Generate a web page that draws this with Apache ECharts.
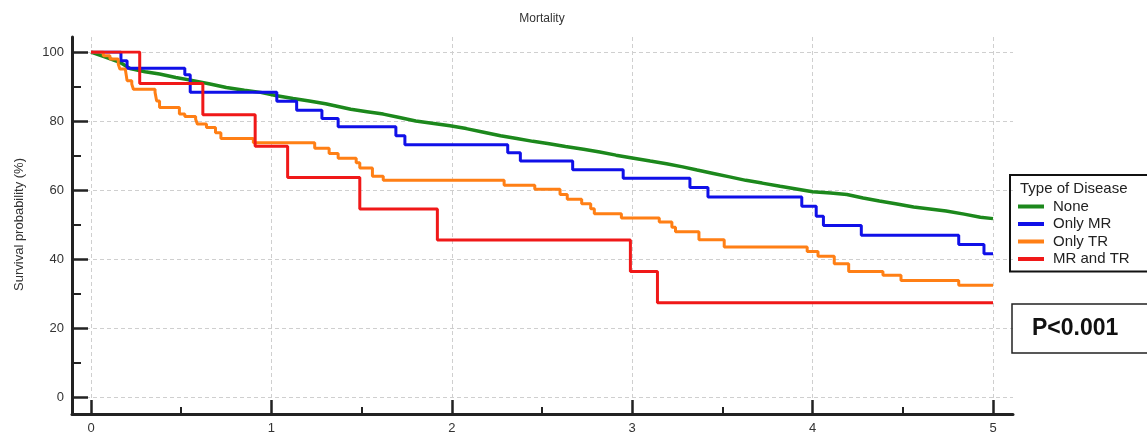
<!DOCTYPE html>
<html>
<head>
<meta charset="utf-8">
<script src="https://cdn.jsdelivr.net/npm/echarts@6/dist/echarts.min.js"></script>
<style>
html,body{margin:0;padding:0;background:#fff;}
#chart{width:1147px;height:436px;}
</style>
</head>
<body>
<div id="chart"></div>
<script>
// ---- data (time in years, survival %) ----
const seriesNames = ['None', 'Only MR', 'Only TR', 'MR and TR'];
const noneData = [
  [0,100],[0.08,98.5],[0.16,97],[0.216,95.2],[0.3,94.3],[0.38,93.6],[0.47,92.6],[0.567,91.7],[0.66,90.7],
  [0.75,89.7],[0.85,88.9],[0.94,88.3],[1.03,87.3],[1.12,86.5],[1.21,85.8],[1.3,85],[1.37,84.2],[1.44,83.4],
  [1.53,82.7],[1.62,82],[1.71,81],[1.8,80],[1.9,79.3],[1.99,78.6],[2.08,77.8],[2.17,76.8],[2.27,75.7],
  [2.36,74.9],[2.45,74.1],[2.54,73.4],[2.63,72.6],[2.73,71.8],[2.82,71],[2.91,70.1],[3.0,69.3],[3.1,68.4],
  [3.19,67.6],[3.28,66.7],[3.36,65.8],[3.45,64.8],[3.54,63.8],[3.63,62.8],[3.72,62],[3.82,61.1],[3.91,60.3],
  [4.0,59.5],[4.1,59.1],[4.19,58.7],[4.28,57.7],[4.37,56.8],[4.46,56],[4.56,55.1],[4.65,54.5],[4.74,53.9],
  [4.84,53],[4.93,52.1],[5.0,51.7]
];
const onlyMRData = [
  [0,100],[0.166,97.5],[0.2,95.3],[0.52,93.4],[0.55,88.3],[1.03,85.7],[1.14,83.1],[1.28,80.7],[1.37,78.3],
  [1.69,75.7],[1.74,73.1],[2.31,70.8],[2.38,68.4],[2.67,65.9],[2.95,63.4],[3.32,60.7],[3.42,58.0],
  [3.94,55.3],[4.02,52.4],[4.06,49.7],[4.27,46.9],[4.81,44.2],[4.95,41.5],[5.0,41.5]
];
const onlyTRData = [
  [0,100],[0.068,98.9],[0.105,98],[0.151,96.5],[0.16,95.1],[0.19,94.6],[0.2,91.7],[0.226,90.7],[0.235,89.2],
  [0.355,88.3],[0.364,85.8],[0.38,83.9],[0.49,82],[0.52,81.3],[0.58,80.5],[0.59,79.1],[0.64,78.1],[0.69,76.6],
  [0.72,74.9],[0.9,73.7],[1.24,72.1],[1.32,70.6],[1.37,69.2],[1.47,67.9],[1.49,66.4],[1.56,64],[1.62,62.8],
  [2.29,61.4],[2.46,60.2],[2.6,58.7],[2.64,57.3],[2.72,56],[2.77,54.6],[2.79,53.1],[2.94,51.9],[3.15,50.7],
  [3.22,49.2],[3.24,47.9],[3.37,45.6],[3.51,43.5],[3.97,42.2],[4.03,40.8],[4.12,38.6],[4.2,36.4],[4.39,35.3],
  [4.49,33.8],[4.81,32.4],[5,32.4]
];
const mrTrData = [
  [0,100],[0.27,90.9],[0.62,81.8],[0.91,72.7],[1.09,63.6],[1.49,54.5],[1.92,45.5],[2.99,36.4],[3.14,27.3],[5,27.3]
];
const xTicks = [0, 1, 2, 3, 4, 5];
const yTicks = [0, 20, 40, 60, 80, 100];
const colors = ['#1c881c', '#1010e8', '#ff7f15', '#f01818'];

const font = 'Liberation Sans, Arial, sans-serif';
const chart = echarts.init(document.getElementById('chart'));
const allData = [noneData, onlyMRData, onlyTRData, mrTrData];

const option = {
  animation: false,
  backgroundColor: '#fff',
  title: [
    { text: 'Mortality', left: 542, top: 13, textAlign: 'center', padding: 0,
      textStyle: { fontSize: 12, fontWeight: 'normal', color: '#333', fontFamily: font } },
    { text: 'Type of Disease', left: 1020, top: 181, padding: 0,
      textStyle: { fontSize: 15, fontWeight: 'normal', color: '#222', fontFamily: font } },
    { text: 'P<0.001', left: 1012, top: 304, padding: [13, 60, 13, 20],
      borderColor: '#222', borderWidth: 1.5,
      textStyle: { fontSize: 23, fontWeight: 'bold', color: '#111', lineHeight: 23, fontFamily: font } }
  ],
  legend: {
    data: seriesNames, orient: 'vertical', left: 1010, top: 175,
    padding: [24, 60, 5, 8], borderColor: '#111', borderWidth: 2,
    itemWidth: 26, itemHeight: 4, icon: 'rect', itemGap: 2.5,
    textStyle: { fontSize: 15, lineHeight: 15, color: '#222', fontFamily: font, padding: [0, 0, 0, 4] }
  },
  grid: [
    { left: 72, right: 134, top: 52, bottom: 39 },
    { left: 91, right: 154, top: 37, bottom: 22 },
    { left: 91, right: 154, top: 52, bottom: 39 },
    { left: 72, right: 134, top: 37, bottom: 22 }
  ],
  xAxis: [
    { gridIndex: 0, type: 'value', min: 0, max: 1, show: false },
    { gridIndex: 1, type: 'value', min: xTicks[0], max: xTicks[xTicks.length - 1], interval: 1,
      axisLine: { show: false },
      axisTick: { show: true, inside: true, length: 14, lineStyle: { color: '#222', width: 2.5 } },
      minorTick: { show: true, splitNumber: 2, length: 7, lineStyle: { color: '#222', width: 2 } },
      axisLabel: { show: true, margin: 8, fontSize: 13, color: '#333', fontFamily: font },
      splitLine: { show: true, lineStyle: { type: [4, 3], color: '#cfcfcf', width: 1 } } },
    { gridIndex: 2, type: 'value', min: 0, max: 5, show: false },
    { gridIndex: 3, type: 'value', min: 0, max: 1,
      axisLine: { show: true, onZero: false, lineStyle: { color: '#222', width: 3 } },
      axisTick: { show: false }, axisLabel: { show: false }, splitLine: { show: false } }
  ],
  yAxis: [
    { gridIndex: 0, type: 'value', min: yTicks[0], max: yTicks[yTicks.length - 1], interval: 20,
      name: 'Survival probability (%)', nameLocation: 'middle', nameGap: 46,
      nameTextStyle: { fontSize: 13, color: '#333', fontFamily: font },
      axisLine: { show: false },
      axisTick: { show: true, inside: true, length: 16, lineStyle: { color: '#222', width: 2.5 } },
      minorTick: { show: true, splitNumber: 2, length: 9, lineStyle: { color: '#222', width: 2 } },
      axisLabel: { show: true, margin: 8, fontSize: 13, color: '#333', fontFamily: font },
      splitLine: { show: true, lineStyle: { type: [4, 3], color: '#cfcfcf', width: 1 } } },
    { gridIndex: 1, type: 'value', min: 0, max: 1, show: false },
    { gridIndex: 2, type: 'value', min: 0, max: 100, show: false },
    { gridIndex: 3, type: 'value', min: 0, max: 1,
      axisLine: { show: true, onZero: false, lineStyle: { color: '#222', width: 3 } },
      axisTick: { show: false }, axisLabel: { show: false }, splitLine: { show: false } }
  ],
  series: seriesNames.map((name, i) => ({
    name: name, type: 'line', xAxisIndex: 2, yAxisIndex: 2,
    step: i === 0 ? false : 'end', showSymbol: false, symbol: 'none', color: colors[i],
    lineStyle: { width: i === 0 ? 3.5 : 3, color: colors[i] },
    data: allData[i], z: 5 + (i === 3 ? 1 : 0)
  }))
};
chart.setOption(option);
</script>
</body>
</html>
